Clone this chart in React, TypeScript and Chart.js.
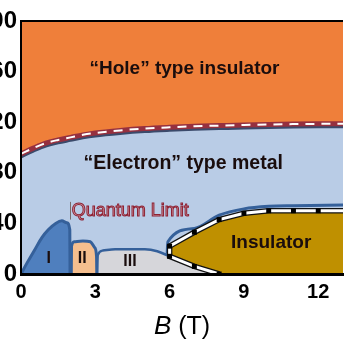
import React, { useEffect, useRef } from "react";
import { Chart, registerables } from "chart.js";

Chart.register(...registerables);

// ---- axis ticks ----
const xTicks = [0, 3, 6, 9, 12];
const yTicks = [0, 40, 80, 120, 160, 200];

// ---- "Hole"-insulator / "Electron"-metal boundary ----
const holeB = [0, 0.5, 1, 1.5, 2, 2.5, 3, 4, 5, 6, 7, 8, 9, 10, 11, 12, 13];
const holeT = [95, 99.5, 103.5, 106, 108, 110, 111.5, 113.5, 115, 116, 116.8, 117.3, 117.8, 118.2, 118.5, 118.7, 118.8];

// ---- phase I ----
const phaseIB = [0, 0.25, 0.55, 0.85, 1.1, 1.4, 1.65, 1.85, 1.97, 1.98];
const phaseIT = [0, 9, 19, 29, 35, 40, 42, 40.5, 35, 0];

// ---- phase II ----
const phaseIIB = [2.03, 2.04, 2.15, 2.5, 2.8, 2.97, 3.05, 3.06];
const phaseIIT = [0, 22, 25.5, 26, 25.5, 21, 14, 0];

// ---- phase III ----
const phaseIIIB = [3.07, 3.1, 3.3, 3.8, 5.0, 5.5, 6.0, 7.0, 8.0];
const phaseIIIT = [0, 15, 18.5, 19.5, 19.5, 18, 14, 6, 0];

// ---- insulator boundaries ----
const insLowB = [6, 7, 8, 13];
const insLowT = [14, 6, 0, 0];
const insUpB = [6, 7, 8, 9, 10, 11, 12, 13];
const insUpT = [22, 33, 43, 48, 50, 50, 50, 50];

// ---- quantum limit line above the insulator ----
const qlB = [5.9, 5.93, 7, 8, 9, 10, 11, 13];
const qlT = [16, 25.5, 36, 46.5, 51.5, 53.5, 54, 54.5];

const FONT = "'Liberation Sans', Arial, Helvetica, sans-serif";

const pts = (xs: number[], ys: number[]) => xs.map((x, i) => ({ x, y: ys[i] }));

const NAVY = "#35609a";

export default function App() {
  const ref = useRef<HTMLCanvasElement>(null);

  useEffect(() => {
    const insOutline = [
      ...pts(insLowB, insLowT).filter((p) => p.x <= 8).reverse(),
      ...pts(insUpB, insUpT),
    ];

    const bgPlugin = {
      id: "bg",
      beforeDatasetsDraw(chart: any) {
        const { ctx, chartArea: a } = chart;
        ctx.save();
        ctx.fillStyle = "#b9cce6";
        ctx.fillRect(a.left, a.top, a.right - a.left, a.bottom - a.top);
        ctx.restore();
      },
      beforeDatasetDraw(chart: any, args: any) {
        const ds = chart.data.datasets[args.index];
        if (ds.label === "holeShadow") {
          chart.ctx.save();
          chart.ctx.translate(0, 3);
        }
      },
      afterDatasetDraw(chart: any, args: any) {
        const ds = chart.data.datasets[args.index];
        if (ds.label === "holeShadow") chart.ctx.restore();
      },
      afterDatasetsDraw(chart: any) {
        const { ctx, chartArea: a, scales } = chart;
        const X = (v: number) => scales.x.getPixelForValue(v);
        const Y = (v: number) => scales.y.getPixelForValue(v);
        ctx.save();
        // top frame line
        ctx.strokeStyle = "#000";
        ctx.lineWidth = 2;
        ctx.beginPath();
        ctx.moveTo(a.left, a.top);
        ctx.lineTo(a.right, a.top);
        ctx.stroke();

        ctx.textBaseline = "middle";
        ctx.textAlign = "center";
        ctx.fillStyle = "#1a0d0d";
        ctx.font = `bold 19px ${FONT}`;
        ctx.fillText("\u201CHole\u201D type insulator", X(6.6), Y(162.5));
        ctx.font = `bold 19.5px ${FONT}`;
        ctx.fillText("\u201CElectron\u201D type metal", X(6.55), Y(87));
        ctx.font = `bold 19px ${FONT}`;
        ctx.fillText("Insulator", X(10.1), Y(24.5));
        ctx.font = `bold 16px ${FONT}`;
        ctx.fillText("I", X(1.12), Y(12.5));
        ctx.fillText("II", X(2.47), Y(12.5));
        ctx.fillText("III", X(4.4), Y(9.5));

        // Quantum limit label
        ctx.textAlign = "left";
        ctx.font = `18px ${FONT}`;
        ctx.fillStyle = "#cf9aa4";
        ctx.fillText("Quantum Limit", X(2.05), Y(49.5));
        ctx.lineWidth = 1;
        ctx.strokeStyle = "#8e2234";
        ctx.strokeText("Quantum Limit", X(2.05), Y(49.5));

        // small vertical marker
        ctx.strokeStyle = "#7a6a6a";
        ctx.lineWidth = 1;
        ctx.beginPath();
        ctx.moveTo(Math.round(X(1.98)) + 0.5, Y(57));
        ctx.lineTo(Math.round(X(1.98)) + 0.5, Y(43));
        ctx.stroke();

        // axis title
        const cx = (a.left + a.right) / 2;
        const ty = a.bottom + 53;
        ctx.fillStyle = "#000";
        ctx.textAlign = "left";
        ctx.font = `italic 26px ${FONT}`;
        const bW = ctx.measureText("B").width;
        ctx.font = `25px ${FONT}`;
        const tW = ctx.measureText(" (T)").width;
        const start = cx - (bW + tW) / 2;
        ctx.font = `italic 26px ${FONT}`;
        ctx.fillText("B", start, ty);
        ctx.font = `25px ${FONT}`;
        ctx.fillText(" (T)", start + bW, ty);
        ctx.restore();
      },
    };

    const chart = new Chart(ref.current!, {
      type: "line",
      data: {
        datasets: [
          {
            label: "holeShadow",
            data: pts(holeB, holeT),
            borderColor: "#3b4a6b",
            borderWidth: 3,
            pointRadius: 0,
            fill: false,
            cubicInterpolationMode: "monotone",
            order: 20,
          },
          {
            label: "hole",
            data: pts(holeB, holeT),
            borderColor: "#96303f",
            borderWidth: 5,
            backgroundColor: "#ef7f3a",
            pointRadius: 0,
            fill: "end",
            cubicInterpolationMode: "monotone",
            order: 19,
          },
          {
            label: "holeDash",
            data: pts(holeB, holeT),
            borderColor: "#ffffff",
            borderWidth: 2,
            borderDash: [9, 7],
            pointRadius: 0,
            fill: false,
            cubicInterpolationMode: "monotone",
            order: 18,
          },
          {
            label: "III",
            data: pts(phaseIIIB, phaseIIIT),
            borderColor: NAVY,
            borderWidth: 2.5,
            backgroundColor: "#d6d6da",
            pointRadius: 0,
            fill: "origin",
            cubicInterpolationMode: "monotone",
            order: 17,
          },
          {
            label: "II",
            data: pts(phaseIIB, phaseIIT),
            borderColor: NAVY,
            borderWidth: 3,
            backgroundColor: "#f5be8e",
            pointRadius: 0,
            fill: "origin",
            cubicInterpolationMode: "monotone",
            order: 16,
          },
          {
            label: "I",
            data: pts(phaseIB, phaseIT),
            borderColor: NAVY,
            borderWidth: 3,
            backgroundColor: "#4f7fbe",
            pointRadius: 0,
            fill: "origin",
            cubicInterpolationMode: "monotone",
            order: 15,
          },
          {
            label: "insLow",
            data: pts(insLowB, insLowT),
            borderWidth: 0,
            borderColor: "rgba(0,0,0,0)",
            pointRadius: 0,
            fill: false,
            order: 14,
          },
          {
            label: "insUp",
            data: pts(insUpB, insUpT),
            borderWidth: 0,
            borderColor: "rgba(0,0,0,0)",
            backgroundColor: "#bf9000",
            pointRadius: 0,
            fill: 6,
            order: 13,
          },
          {
            label: "ql",
            data: pts(qlB, qlT),
            borderColor: NAVY,
            borderWidth: 3,
            pointRadius: 0,
            fill: false,
            cubicInterpolationMode: "monotone",
            order: 12,
          },
          {
            label: "insEdge",
            data: insOutline,
            borderColor: "#111",
            borderWidth: 5.5,
            pointRadius: 0,
            fill: false,
            order: 11,
          },
          {
            label: "insWhite",
            data: insOutline,
            borderColor: "#ffffff",
            borderWidth: 3,
            pointStyle: "rect",
            pointRadius: (c: any) => (c.raw && c.raw.x >= 13 ? 0 : 3.5),
            pointBackgroundColor: "#000",
            pointBorderColor: "#000",
            pointBorderWidth: 0,
            fill: false,
            order: 10,
          },
        ] as any,
      },
      options: {
        responsive: false,
        animation: false,
        devicePixelRatio: 1,
        events: [],
        layout: { padding: { top: 21, right: 2, left: 0, bottom: 0 } },
        plugins: { legend: { display: false }, tooltip: { enabled: false } },
        scales: {
          x: {
            type: "linear",
            min: 0,
            max: 13,
            afterBuildTicks: (s: any) => {
              s.ticks = xTicks.map((v) => ({ value: v }));
            },
            afterFit: (s: any) => {
              s.height = 72;
            },
            ticks: {
              color: "#000",
              font: { family: FONT, size: 20, weight: "bold" },
              padding: 6,
              maxRotation: 0,
            },
            grid: { display: false, drawTicks: false },
            border: { display: true, color: "#000", width: 3, z: 1 },
          },
          y: {
            type: "linear",
            min: 0,
            max: 200,
            afterBuildTicks: (s: any) => {
              s.ticks = yTicks.map((v) => ({ value: v }));
            },
            afterFit: (s: any) => {
              s.width = 51;
            },
            ticks: {
              color: "#000",
              font: { family: FONT, size: 24, weight: "bold" },
              padding: 4,
            },
            grid: { display: false, drawTicks: false },
            border: { display: true, color: "#000", width: 2, z: 1 },
          },
        },
      } as any,
      plugins: [bgPlugin],
    });
    return () => chart.destroy();
  }, []);

  return (
    <div style={{ position: "fixed", left: -30, top: 0, width: 377, height: 346, background: "#fff" }}>
      <canvas ref={ref} width={377} height={346} style={{ display: "block" }} />
    </div>
  );
}
